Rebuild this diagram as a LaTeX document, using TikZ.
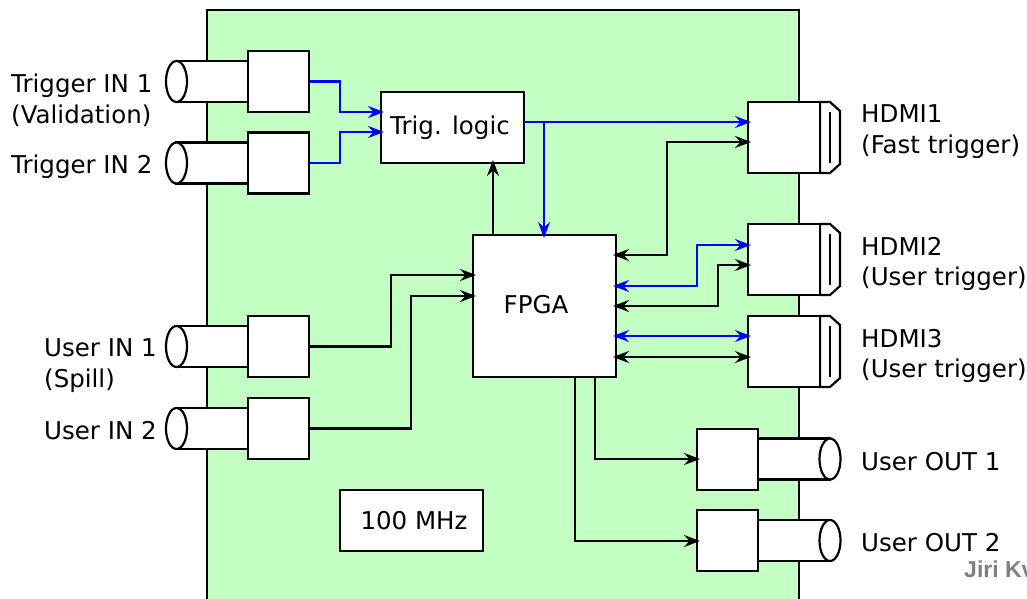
\documentclass[tikz,border=0pt]{standalone}
\usepackage{fontspec}
\setmainfont{DejaVu Sans}
\newfontfamily\signfont{Liberation Sans}
\usetikzlibrary{arrows.meta}
\definecolor{boardgreen}{HTML}{C3FFC3}
\tikzset{
  part/.style={draw=black, fill=white, line width=2.2pt, line join=miter},
  block/.style={part, rectangle, inner sep=0pt, font=\fontsize{24.5}{30}\selectfont},
  port/.style={block, minimum width=61pt, minimum height=61pt},
  hdmi/.style={block, minimum width=72pt, minimum height=71pt},
  caption/.style={anchor=west, inner sep=0pt, align=left, font=\fontsize{24.5}{30.5}\selectfont},
  wire/.style={line width=2.2pt, -{Stealth[length=16pt, width=12pt, inset=5.5pt]}},
  bwire/.style={line width=2.2pt, {Stealth[length=16pt, width=12pt, inset=5.5pt]}-{Stealth[length=16pt, width=12pt, inset=5.5pt]}},
}
\begin{document}
\begin{tikzpicture}[x=1pt, y=-1pt]
\useasboundingbox (0,0) rectangle (1027,599);
% board, runs off the bottom of the page
\fill[boardgreen] (207,10) rectangle (799,610);
\draw[line width=2.2pt] (207,610) -- (207,10) -- (799,10) -- (799,610);

% cables on the inputs
\draw[part] (176.5,61) -- (248,61) -- (248,102) -- (176.5,102) -- cycle;
\draw[part] (176.5,81.5) ellipse [x radius=10.5, y radius=20.5];
\draw[part] (176.5,142.5) -- (248,142.5) -- (248,183.5) -- (176.5,183.5) -- cycle;
\draw[part] (176.5,163) ellipse [x radius=10.5, y radius=20.5];
\draw[part] (176.5,326) -- (248,326) -- (248,367) -- (176.5,367) -- cycle;
\draw[part] (176.5,346.5) ellipse [x radius=10.5, y radius=20.5];
\draw[part] (176.5,408) -- (248,408) -- (248,449) -- (176.5,449) -- cycle;
\draw[part] (176.5,428.5) ellipse [x radius=10.5, y radius=20.5];

% cables on the outputs
\draw[part] (758,438.5) -- (830,438.5) -- (830,479.5) -- (758,479.5) -- cycle;
\draw[part] (830,459) ellipse [x radius=10.5, y radius=20.5];
\draw[part] (758,520) -- (830,520) -- (830,561) -- (758,561) -- cycle;
\draw[part] (830,540.5) ellipse [x radius=10.5, y radius=20.5];

% hdmi plugs
\draw[part] (820,102) -- (830,102) -- (840,111) -- (840,164) -- (830,173) -- (820,173) -- cycle;
\draw[line width=2.2pt] (830,112) -- (830,163);
\draw[part] (820,224) -- (830,224) -- (840,233) -- (840,286) -- (830,295) -- (820,295) -- cycle;
\draw[line width=2.2pt] (830,234) -- (830,285);
\draw[part] (820,316) -- (830,316) -- (840,325) -- (840,378) -- (830,387) -- (820,387) -- cycle;
\draw[line width=2.2pt] (830,326) -- (830,377);

\node[port] (in1) at (278.5,81.5) {};
\node[port] (in2) at (278.5,163) {};
\node[port] (in3) at (278.5,346.5) {};
\node[port] (in4) at (278.5,428.5) {};
\node[port] (out1) at (727.5,459.5) {};
\node[port] (out2) at (727.5,540.5) {};
\node[hdmi] (hdmi1) at (784,137.5) {};
\node[hdmi] (hdmi2) at (784,259.5) {};
\node[hdmi] (hdmi3) at (784,351.5) {};

\node[block, minimum width=143pt, minimum height=71pt] (trig) at (452.5,127.5) {\raisebox{1pt}{Trig. logic}\hspace*{5pt}};
\node[block, minimum width=143pt, minimum height=142pt] (fpga) at (544.5,306) {\raisebox{3pt}{FPGA}\hspace*{17pt}};
\node[block, minimum width=143pt, minimum height=61pt] (clock) at (411.5,520.5) {\hspace*{5pt}100 MHz};

% arrow ends, tips run a little into the boxes
\coordinate (trigA) at (384,112);
\coordinate (trigB) at (384,132);
\coordinate (trigC) at (524,122);
\coordinate (trigD) at (493,160);
\coordinate (fpgaT) at (544,238);
\coordinate (fpgaS) at (493,235);
\coordinate (fpgaA) at (476,275);
\coordinate (fpgaB) at (476,296);
\coordinate (fpgaC) at (613,255);
\coordinate (fpgaD) at (613,286);
\coordinate (fpgaE) at (613,306);
\coordinate (fpgaF) at (613,336);
\coordinate (fpgaG) at (613,357);
\coordinate (fpgaH) at (595,377);
\coordinate (fpgaI) at (575,377);
\coordinate (hdmiA) at (751,122);
\coordinate (hdmiB) at (751,142);
\coordinate (hdmiC) at (751,245);
\coordinate (hdmiD) at (751,265);
\coordinate (hdmiE) at (751,336);
\coordinate (hdmiF) at (751,357);
\coordinate (outA) at (700,459);
\coordinate (outB) at (700,541);

\draw[wire, blue] (in1.east) -- ++(30,0) |- (trigA);
\draw[wire, blue] (in2.east) -- ++(30,0) |- (trigB);
\draw[wire, blue] (trigC) -- (hdmiA);
\draw[wire, blue] (544,122) -- (fpgaT);
\draw[wire] (fpgaS) -- (trigD);
\draw[wire] (in3.east) -- ++(81,0) |- (fpgaA);
\draw[wire] (in4.east) -- ++(101,0) |- (fpgaB);
\draw[bwire] (fpgaC) -- (667,255) |- (hdmiB);
\draw[bwire, blue] (fpgaD) -- (697,286) |- (hdmiC);
\draw[bwire] (fpgaE) -- (718,306) |- (hdmiD);
\draw[bwire, blue] (fpgaF) -- (hdmiE);
\draw[bwire] (fpgaG) -- (hdmiF);
\draw[wire] (fpgaH) |- (outA);
\draw[wire] (fpgaI) |- (outB);

\node[caption] (lab1) at (11,100.5) {Trigger IN 1\\(Validation)};
\node[caption] (lab2) at (11,167) {Trigger IN 2};
\node[caption] (lab3) at (44,365.5) {User IN 1\\(Spill)};
\node[caption] (lab4) at (44,430.5) {User IN 2};
\node[caption] (lab5) at (861,131.5) {HDMI1\\(Fast trigger)};
\node[caption] (lab6) at (861,264) {HDMI2\\(User trigger)};
\node[caption] (lab7) at (861,356) {HDMI3\\(User trigger)};
\node[caption] (lab8) at (861,462) {User OUT 1};
\node[caption] (lab9) at (861,543) {User OUT 2};
\node[anchor=base west, inner sep=0pt, text=black!50, font=\signfont\bfseries\fontsize{23}{27}\selectfont] (sign) at (964,577) {Jiri Kv};
\end{tikzpicture}
\end{document}
